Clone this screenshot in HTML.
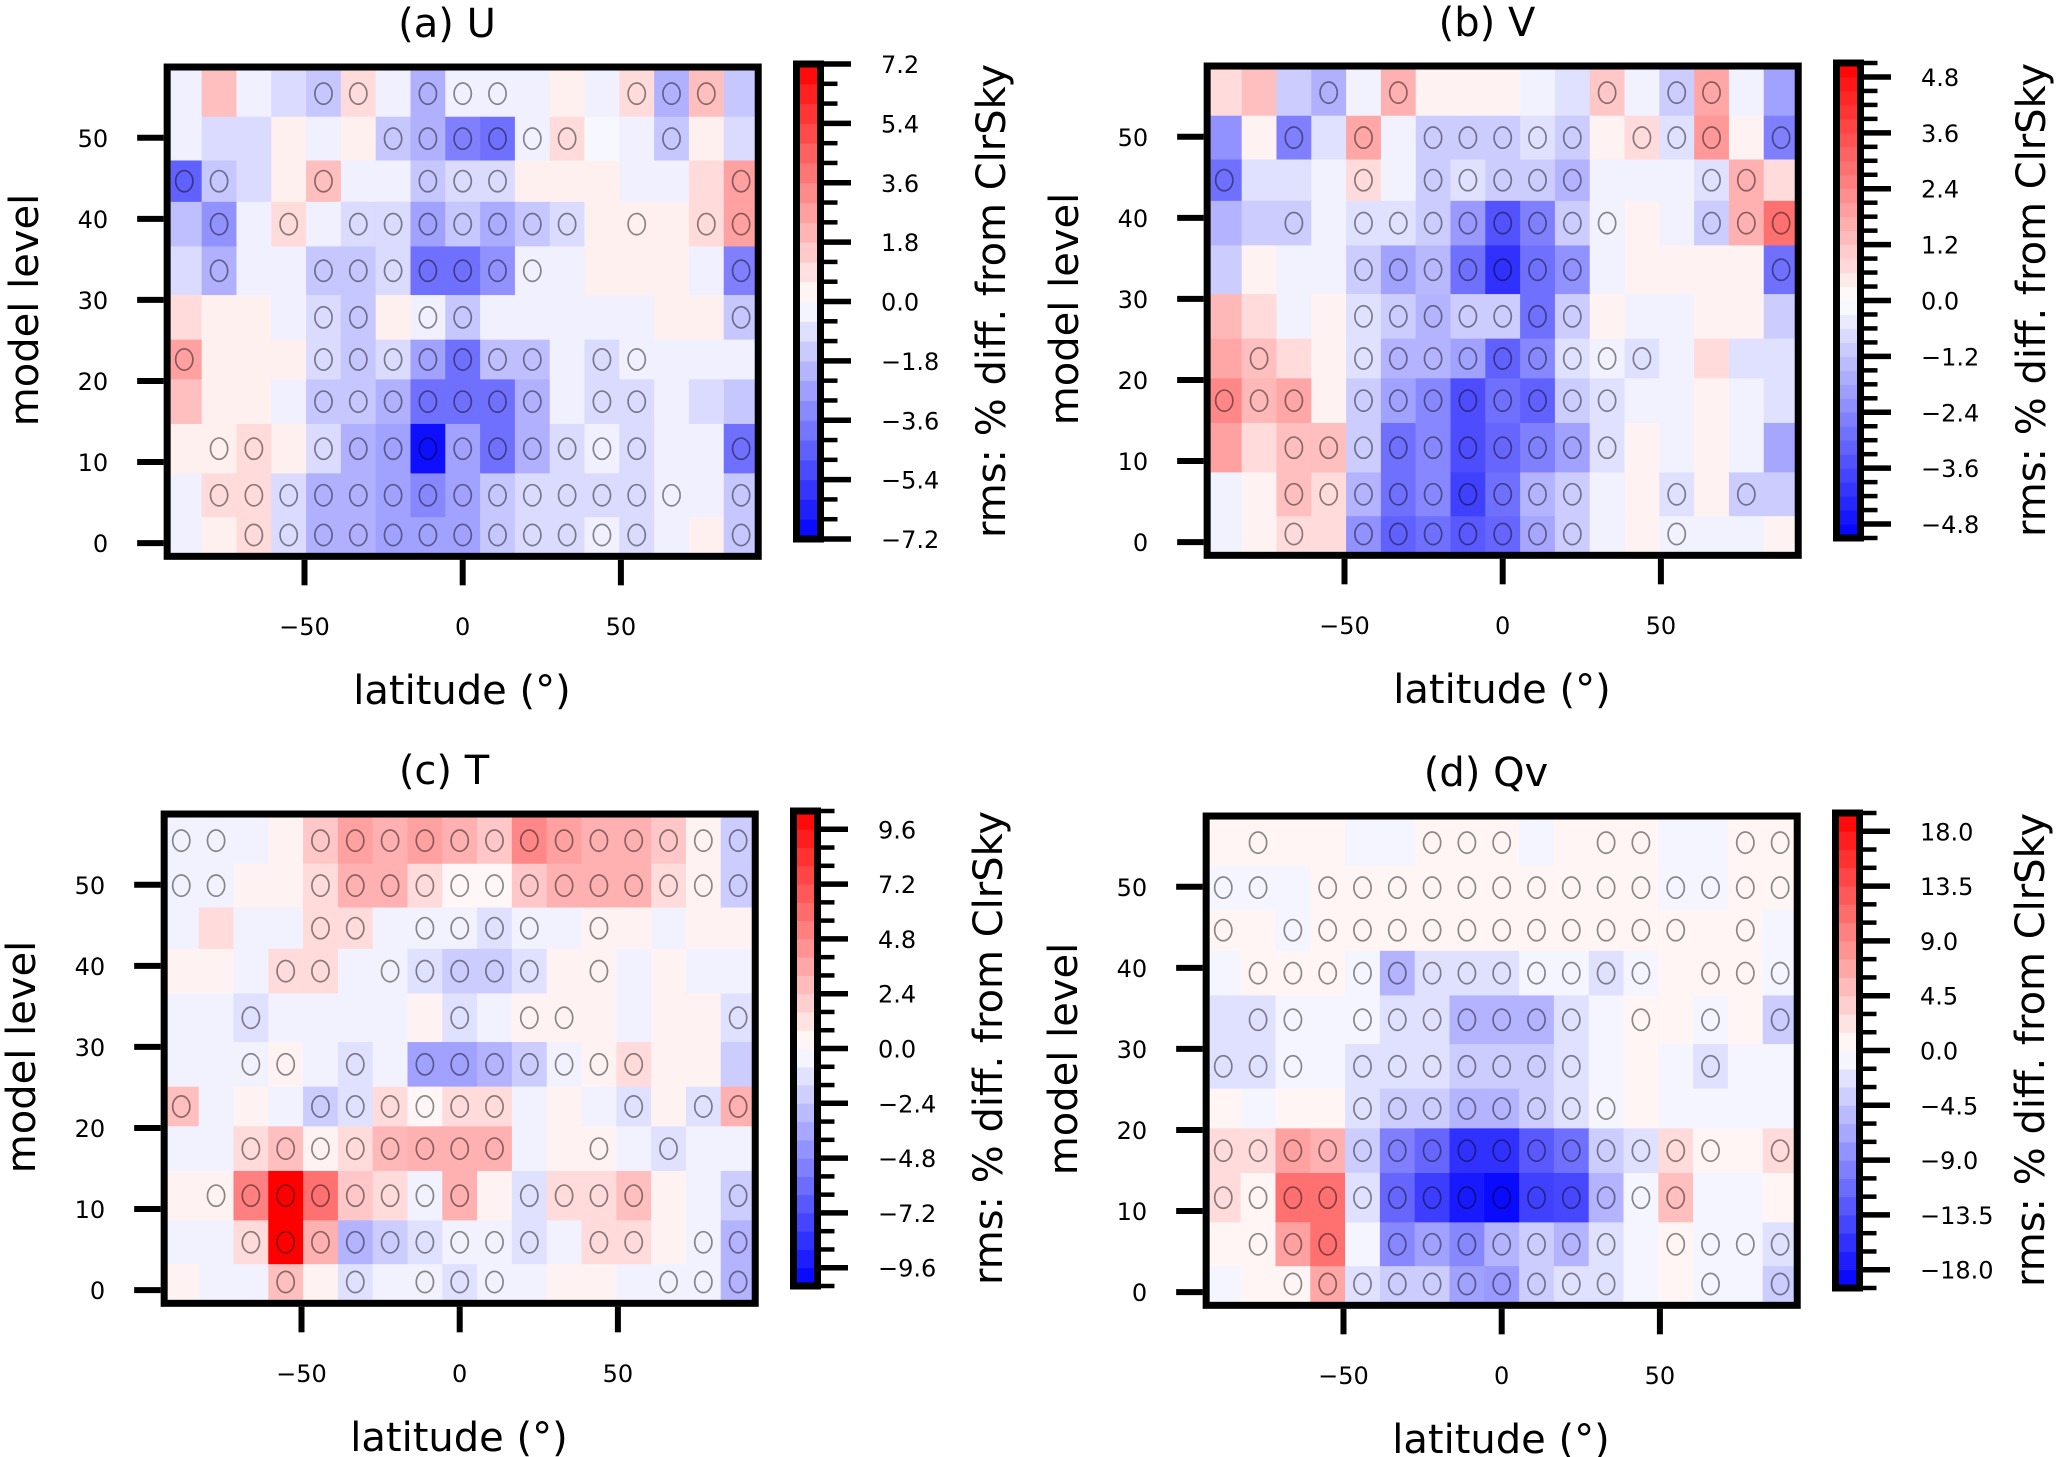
<!DOCTYPE html>
<html><head><meta charset="utf-8"><title>rms % diff from ClrSky</title>
<style>
html,body{margin:0;padding:0;background:#fff;}
svg{display:block;font-family:"DejaVu Sans","Liberation Sans",sans-serif;}
</style></head>
<body>
<svg id="fig" xmlns="http://www.w3.org/2000/svg" width="2067" height="1457" viewBox="0 0 2067 1457"></svg>
<script>
// ---- shared axes data ----
const latCenters = [-88,-77,-66,-55,-44,-33,-22,-11,0,11,22,33,44,55,66,77,88];
const levelEdges = [58.3,52.6,47.2,42.1,36.6,30.6,25.1,20.2,14.7,8.6,3.2,-1.2];
const xTicks = [-50,0,50];
const yTicks = [0,10,20,30,40,50];

// ---- (a) U : normalized values (fraction of colour-scale max), rows top->bottom ----
const valuesU = [
[-.06,.25,-.06,-.14,-.22,.14,-.06,-.31,-.06,-.06,-.06,.06,-.06,.14,-.31,.25,-.22],
[-.06,-.14,-.14,.06,-.06,.06,-.22,-.31,-.5,-.56,-.06,.14,-.03,-.06,-.22,.06,-.14],
[-.62,-.22,-.14,.06,.25,-.06,-.06,-.22,-.14,-.14,.06,.06,.06,-.06,-.06,.14,.37],
[-.25,-.43,-.06,.14,-.06,-.14,-.14,-.37,-.22,-.33,-.22,-.14,.06,.06,.06,.14,.37],
[-.14,-.31,-.06,-.06,-.22,-.22,-.14,-.56,-.56,-.43,-.06,-.06,.06,.06,.06,-.06,-.5],
[.14,.06,.06,-.06,-.14,-.22,.06,-.06,-.22,-.06,-.06,-.06,-.06,-.06,.06,.06,-.22],
[.37,.06,.06,.06,-.14,-.22,-.14,-.37,-.56,-.25,-.25,-.06,-.14,-.06,-.06,-.06,-.06],
[.25,.06,.06,-.06,-.22,-.22,-.31,-.56,-.56,-.56,-.31,-.06,-.14,-.14,-.06,-.14,-.22],
[.06,.06,.14,.06,-.14,-.31,-.37,-.94,-.37,-.56,-.31,-.14,-.06,-.14,-.06,-.06,-.56],
[-.06,.14,.14,-.14,-.31,-.31,-.37,-.47,-.37,-.22,-.14,-.14,-.14,-.14,-.06,-.06,-.22],
[-.06,.06,.14,-.14,-.31,-.31,-.37,-.37,-.37,-.22,-.14,-.14,-.06,-.14,-.06,.06,-.22]];
const signifU = [[4,5,7,8,9,13,14,15],[6,7,8,9,10,11,14],[0,1,4,7,8,9,16],[1,3,5,6,7,8,9,10,11,13,15,16],[1,4,5,6,7,8,9,10,16],[4,5,7,8,16],[0,4,5,6,7,8,9,10,12,13],[4,5,6,7,8,9,10,12,13],[1,2,4,5,6,7,8,9,10,11,12,13,16],[1,2,3,4,5,6,7,8,9,10,11,12,13,14,16],[2,3,4,5,6,7,8,9,10,11,12,13,16]];
const cbarTicksU = [7.2,5.4,3.6,1.8,0.0,-1.8,-3.6,-5.4,-7.2];

// ---- (b) V ----
const valuesV = [
[.14,.25,-.2,-.31,-.05,.31,.05,.05,.05,-.05,-.12,.22,-.05,-.2,.35,-.05,-.37],
[-.43,.05,-.5,-.12,.35,-.05,-.2,-.2,-.2,-.12,-.2,.05,.14,-.12,.4,.05,-.5],
[-.56,-.12,-.12,-.05,.14,-.05,-.2,-.12,-.2,-.2,-.3,-.05,-.05,-.05,-.12,.31,.14],
[-.3,-.2,-.2,-.05,-.12,-.12,-.2,-.4,-.68,-.5,-.2,-.05,.05,-.05,-.2,.31,.56],
[-.2,.05,-.05,-.05,-.2,-.37,-.28,-.56,-.81,-.56,-.43,-.05,.05,.05,.05,.05,-.56],
[.28,.14,-.05,.05,-.12,-.2,-.3,-.2,-.2,-.56,-.2,.05,-.05,-.05,.05,.05,-.2],
[.35,.25,.14,.05,-.12,-.3,-.3,-.37,-.62,-.47,-.12,-.05,-.12,-.05,.14,-.12,-.12],
[.47,.28,.35,.05,-.2,-.37,-.47,-.7,-.56,-.62,-.2,-.12,-.05,-.05,.05,-.05,-.12],
[.37,.14,.25,.25,-.2,-.56,-.47,-.7,-.6,-.5,-.37,-.12,.05,-.05,.05,-.05,-.35],
[-.05,.05,.25,.14,-.3,-.56,-.47,-.75,-.56,-.3,-.2,-.05,.05,-.12,.05,-.2,-.2],
[-.05,.05,.14,.14,-.43,-.62,-.56,-.65,-.6,-.35,-.2,-.05,.05,-.05,-.05,-.05,.05]];
const signifV = [[3,5,11,13,14],[2,4,6,7,8,9,10,12,13,14,16],[0,4,6,7,8,9,10,14,15],[2,4,5,6,7,8,9,10,11,14,15,16],[4,5,6,7,8,9,10,16],[4,5,6,7,8,9,10],[1,4,5,6,7,8,9,10,11,12],[0,1,2,4,5,6,7,8,9,10,11],[2,3,4,5,6,7,8,9,10,11],[2,3,4,5,6,7,8,9,10,13,15],[2,4,5,6,7,8,9,10,13]];
const cbarTicksV = [4.8,3.6,2.4,1.2,0.0,-1.2,-2.4,-3.6,-4.8];

// ---- (c) T ----
const valuesT = [
[-.05,-.05,-.05,.05,.22,.37,.31,.37,.31,.22,.47,.37,.31,.31,.22,.05,-.2],
[-.05,-.05,.05,.05,.14,.31,.31,.14,.03,.03,.22,.31,.31,.31,.14,.05,-.2],
[-.05,.14,-.05,-.05,.14,.14,-.05,-.05,-.05,-.12,-.05,-.05,.05,.05,-.05,.05,.05],
[.05,.05,-.05,.14,.14,-.05,-.05,-.12,-.2,-.2,-.12,.05,.05,-.05,.05,-.05,-.05],
[-.05,-.05,-.12,-.05,-.05,-.05,-.05,.05,-.12,-.05,.05,.05,.05,-.05,.05,.05,-.12],
[-.05,-.05,-.05,.05,-.05,-.12,-.05,-.37,-.37,-.3,-.2,-.05,.05,.14,.05,.05,-.2],
[.25,-.05,.05,-.05,-.2,-.12,.14,.03,.14,.14,-.05,.05,-.05,-.12,.05,-.12,.31],
[-.05,-.05,.14,.25,.05,.14,.28,.31,.31,.31,-.05,.05,.05,-.05,-.12,-.05,-.05],
[.05,.05,.5,1,.56,.22,.14,-.05,.31,.05,-.12,.14,.14,.25,.05,-.05,-.2],
[-.05,-.05,.14,1,.31,-.3,-.2,-.12,-.05,-.05,-.12,-.05,.14,.14,.05,-.05,-.3],
[.05,-.05,-.05,.25,.05,-.12,-.05,-.05,-.12,-.05,-.05,.05,.05,-.05,-.05,-.05,-.3]];
const signifT = [[0,1,4,5,6,7,8,9,10,11,12,13,14,15,16],[0,1,4,5,6,7,8,9,10,11,12,13,14,15,16],[4,5,7,8,9,10,12],[3,4,6,7,8,9,10,12],[2,8,10,11,16],[2,3,5,7,8,9,10,11,12,13],[0,4,5,6,7,8,9,13,15,16],[2,3,4,5,6,7,8,9,12,14],[1,2,3,4,5,6,7,8,10,11,12,13,16],[2,3,4,5,6,7,8,9,10,12,13,15,16],[3,5,7,8,9,14,15,16]];
const cbarTicksT = [9.6,7.2,4.8,2.4,0.0,-2.4,-4.8,-7.2,-9.6];

// ---- (d) Qv ----
const valuesQ = [
[.04,.04,.04,.04,-.04,-.04,.04,.04,.04,-.04,.04,.04,.04,-.04,-.04,.04,.04],
[-.04,-.04,-.04,.04,.04,.04,.04,.04,.04,.04,.04,.04,.04,-.04,-.04,.04,.04],
[.04,.04,-.04,.04,.04,.04,.04,.04,.04,.04,.04,.04,.04,.04,.04,.04,-.04],
[-.04,.04,.04,.04,-.04,-.3,-.12,-.12,-.12,-.04,-.04,-.12,-.04,.04,.04,.04,-.04],
[-.12,-.12,-.04,-.04,-.04,-.12,-.12,-.3,-.3,-.3,-.12,-.04,.04,.04,-.04,.04,-.2],
[-.12,-.12,-.04,-.04,-.12,-.12,-.12,-.2,-.2,-.2,-.12,-.04,.04,-.04,-.12,-.04,-.04],
[.04,-.04,.04,.04,-.12,-.2,-.2,-.3,-.3,-.2,-.12,-.04,.04,-.04,-.04,-.04,-.04],
[.14,.14,.37,.31,-.2,-.5,-.6,-.81,-.81,-.65,-.56,-.2,-.12,.14,.04,.04,.14],
[.14,.04,.56,.56,-.12,-.6,-.76,-.9,-.96,-.75,-.72,-.3,-.04,.25,-.04,-.04,.04],
[.04,.04,.37,.56,-.04,-.47,-.37,-.47,-.3,-.2,-.3,-.12,-.04,.04,-.04,-.04,-.12],
[-.04,.04,.04,.35,-.12,-.2,-.2,-.37,-.4,-.2,-.12,-.12,-.04,.04,-.04,-.04,-.2]];
const signifQ = [[1,6,7,8,11,12,15,16],[0,1,3,4,5,6,7,8,9,10,11,12,13,14,15,16],[0,2,3,4,5,6,7,8,9,10,11,12,13,15],[1,2,3,4,5,6,7,8,9,10,11,12,14,15,16],[1,2,4,5,6,7,8,9,10,12,14,16],[0,1,2,4,5,6,7,8,9,10,14],[4,5,6,7,8,9,10,11],[0,1,2,3,4,5,6,7,8,9,10,11,12,13,14,16],[0,1,2,3,4,5,6,7,8,9,10,11,12,13],[1,2,3,5,6,7,8,9,10,11,13,14,15,16],[2,3,4,5,6,7,8,9,10,11,14,16]];
const cbarTicksQ = [18.0,13.5,9.0,4.5,0.0,-4.5,-9.0,-13.5,-18.0];

const panels = [
 {key:'u', title:'(a) U', dx:0, dy:0, vals:valuesU, sig:signifU, ticks:cbarTicksU, vmax:7.2, step:0.6},
 {key:'v', title:'(b) V', dx:1040, dy:-1, vals:valuesV, sig:signifV, ticks:cbarTicksV, vmax:5.1, step:0.3},
 {key:'t', title:'(c) T', dx:-3, dy:747, vals:valuesT, sig:signifT, ticks:cbarTicksT, vmax:10.4, step:0.8},
 {key:'qv', title:'(d) Qv', dx:1039, dy:749, vals:valuesQ, sig:signifQ, ticks:cbarTicksQ, vmax:19.5, step:1.5}
];

const NS = 'http://www.w3.org/2000/svg';
const fig = document.getElementById('fig');
function mk(tag, attrs, parent){
  const e = document.createElementNS(NS, tag);
  for (const k in attrs) e.setAttribute(k, attrs[k]);
  (parent||fig).appendChild(e);
  return e;
}
function bwr(f){
  f = Math.max(-1, Math.min(1, f));
  let r,g,b;
  if (f < 0){ r = g = Math.round(255*(1+f)); b = 255; }
  else { r = 255; g = b = Math.round(255*(1-f)); }
  return 'rgb('+r+','+g+','+b+')';
}
const LATMIN=-92.3, LATMAX=92.3;

panels.forEach(p => {
  const xOf = lat => 462.7 + 3.164*lat + p.dx;
  const yOf = L => 543.1 - 8.106*L + p.dy;
  const g = mk('g', {});
  
  

  // heatmap cells
  const hm = mk('g', {}, g);
  
  
  p.vals.forEach((row, ri) => {
    row.forEach((v, ci) => {
      const l0 = Math.max(LATMIN, latCenters[ci]-5.5), l1 = Math.min(LATMAX, latCenters[ci]+5.5);
      const x0 = xOf(l0), x1 = xOf(l1);
      const y0 = yOf(levelEdges[ri]), y1 = yOf(levelEdges[ri+1]);
      const r = mk('rect', {x:x0, y:y0, width:x1-x0+0.4, height:y1-y0+0.4, fill:bwr(v)}, hm);
      
      
    });
  });
  // significance ellipses
  p.sig.forEach((cols, ri) => {
    const yc = yOf((levelEdges[ri]+levelEdges[ri+1])/2);
    cols.forEach(ci => {
      const e = mk('ellipse', {cx:xOf(latCenters[ci]), cy:yc, rx:8.6, ry:10.6, fill:'none', stroke:'rgba(0,0,0,0.45)', 'stroke-width':1.7}, hm);
      
      
    });
  });
  // frame
  const fx0 = xOf(LATMIN)-3.5, fx1 = xOf(LATMAX)+3.5, fy0 = yOf(58.3)-3.5, fy1 = yOf(-1.2)+3.5;
  const fr = mk('rect', {x:fx0, y:fy0, width:fx1-fx0, height:fy1-fy0, fill:'none', stroke:'#000', 'stroke-width':7}, g);
  
  
  // x ticks
  xTicks.forEach(t => {
    const x = xOf(t);
    const tl = mk('line', {x1:x, x2:x, y1:fy1+3.5, y2:fy1+29, stroke:'#000', 'stroke-width':6}, g);
    
    
    const tx = mk('text', {x:x, y:635+p.dy, 'font-size':24, 'text-anchor':'middle'}, g);
    tx.textContent = t < 0 ? '\u2212' + Math.abs(t) : String(t);
    
    
  });
  // y ticks
  yTicks.forEach(t => {
    const y = yOf(t);
    const tl = mk('line', {x1:fx0-3.5, x2:fx0-30, y1:y, y2:y, stroke:'#000', 'stroke-width':6}, g);
    
    
    const tx = mk('text', {x:fx0-59, y:y+9, 'font-size':24, 'text-anchor':'end'}, g);
    tx.textContent = String(t);
    
    
  });
  // titles & axis labels
  const ti = mk('text', {x:447+p.dx, y:37+p.dy, 'font-size':40, 'text-anchor':'middle'}, g);
  ti.textContent = p.title;
  
  
  const xl = mk('text', {x:462+p.dx, y:704+p.dy, 'font-size':40, 'text-anchor':'middle'}, g);
  xl.textContent = 'latitude (\u00b0)';
  
  
  const yl = mk('text', {x:0, y:0, 'font-size':40, 'text-anchor':'middle', transform:'translate('+(38+p.dx)+','+(310+p.dy)+') rotate(-90)'}, g);
  yl.textContent = 'model level';
  
  

  // colorbar
  const cb = mk('g', {}, g);
  
  
  const cx0 = 796.5 + p.dx, cx1 = 820.5 + p.dx, cyTop = 64 + p.dy, cyBot = 539 + p.dy;
  const cyOf = v => (cyTop+cyBot)/2 - v/p.vmax*(cyBot-cyTop)/2;
  const nb = Math.round(2*p.vmax/p.step);
  for (let i=0;i<nb;i++){
    const v0 = -p.vmax + i*p.step, v1 = v0 + p.step;
    const r = mk('rect', {x:cx0, y:cyOf(v1), width:cx1-cx0, height:cyOf(v0)-cyOf(v1)+0.5, fill:bwr((v0+v1)/2/p.vmax)}, cb);
    
    
  }
  for (let i=0;i<=nb;i++){
    const v = -p.vmax + i*p.step;
    const major = p.ticks.some(t => Math.abs(t - v) < 1e-6);
    const y = cyOf(v);
    const tl = mk('line', {x1:cx1+3.5, x2:cx1+3.5+(major?27:13.5), y1:y, y2:y, stroke:'#000', 'stroke-width':major?5.5:4.5}, cb);
    
    
  }
  p.ticks.forEach(t => {
    const tx = mk('text', {x:881+p.dx, y:cyOf(t)+9, 'font-size':24}, cb);
    tx.textContent = (t < 0 ? '\u2212' : '') + Math.abs(t).toFixed(1);
    
    
  });
  const cf = mk('rect', {x:cx0, y:cyTop, width:cx1-cx0, height:cyBot-cyTop, fill:'none', stroke:'#000', 'stroke-width':7}, cb);
  
  
  const cl = mk('text', {x:0, y:0, 'font-size':40, 'text-anchor':'middle', transform:'translate('+(1005+p.dx)+','+(301+p.dy)+') rotate(-90)'}, cb);
  cl.textContent = 'rms: % diff. from ClrSky';
  
  
});
</script>
</body></html>
